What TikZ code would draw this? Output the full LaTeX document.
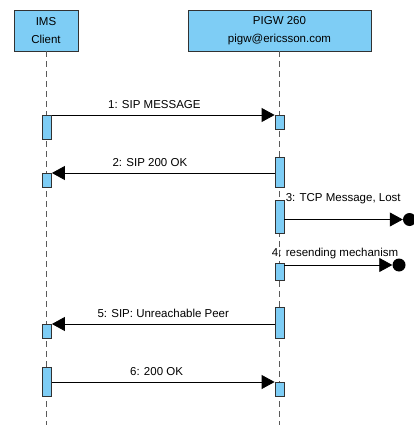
\documentclass[tikz,border=0pt]{standalone}
\usepackage{fontspec}
\setmainfont{Liberation Sans}
\usetikzlibrary{positioning,arrows.meta}
\definecolor{lblue}{RGB}{126,205,245}
\definecolor{edge}{RGB}{50,50,50}

\begin{document}
\begin{tikzpicture}[
    x=1pt, y=-1pt,
    font=\fontsize{11.5}{18}\selectfont,
    head/.style={draw=edge, fill=lblue, rectangle, align=center, minimum height=41pt, inner sep=0pt, line width=0.9pt},
    act/.style={draw=edge, fill=lblue, rectangle, minimum width=9pt, inner sep=0pt, anchor=north, line width=0.8pt},
    life/.style={draw=black!65, dash pattern=on 6pt off 4pt, line width=0.8pt},
    msg/.style={-{Triangle[length=13pt, width=14pt]}, line width=0.8pt},
    lost/.style={circle, fill=black, minimum size=13pt, inner sep=0pt},
    lbl/.style={inner sep=1pt}
]
\useasboundingbox (0,0) rectangle (414,425);

% Lebenslinien-Koepfe
\node[head, minimum width=64pt] (ims) at (46,30.5) {IMS\\Client};
\node[head, minimum width=183pt] (pigw) at (279.5,30.5) {PIGW 260\\pigw@ericsson.com};

% Ende der Lebenslinien
\coordinate (bot) at (0,425);
\draw[life] (ims.south) -- (ims.south |- bot);
\draw[life] (pigw.south) -- (pigw.south |- bot);

% Aktivierungen
\node[act, minimum height=24pt] (c1) at (47,115) {};
\node[act, minimum height=14pt] (p1) at (279.5,115) {};
\node[act, minimum height=30pt] (p2) at (279.5,157) {};
\node[act, minimum height=14pt] (c2) at (47,173) {};
\node[act, minimum height=33pt] (p3) at (279.5,200) {};
\node[act, minimum height=17pt] (p4) at (279.5,263) {};
\node[act, minimum height=31pt] (p5) at (279.5,307) {};
\node[act, minimum height=14pt] (c5) at (47,324) {};
\node[act, minimum height=29pt] (c6) at (47,367) {};
\node[act, minimum height=14pt] (p6) at (279.5,382) {};

% verlorene Nachrichten
\node[lost] (l3) at (409.5,219.5) {};
\node[lost] (l4) at (399,265) {};

% Nachrichten
\draw[msg] (c1.north east) -- (p1.north west)
    node[lbl, pos=0.46, above=5pt] {1: SIP MESSAGE};
\draw[msg] (p2.west |- c2.north) -- (c2.north east)
    node[lbl, pos=0.56, above=5pt] {2: SIP 200 OK};
\draw[msg] (p3.east |- l3) -- (l3.west)
    node[lbl, pos=0, anchor=south west, yshift=14pt] {3: TCP Message, Lost};
\draw[msg] (p4.east |- l4) -- (l4.west)
    node[lbl, pos=0.47, above=5pt] {4: resending mechanism};
\draw[msg] (p5.west |- c5.north) -- (c5.north east)
    node[lbl, pos=0.5, above=5pt] {5: SIP: Unreachable Peer};
\draw[msg] (c6.east |- p6.north) -- (p6.north west)
    node[lbl, pos=0.47, above=5pt] {6: 200 OK};

\end{tikzpicture}
\end{document}
